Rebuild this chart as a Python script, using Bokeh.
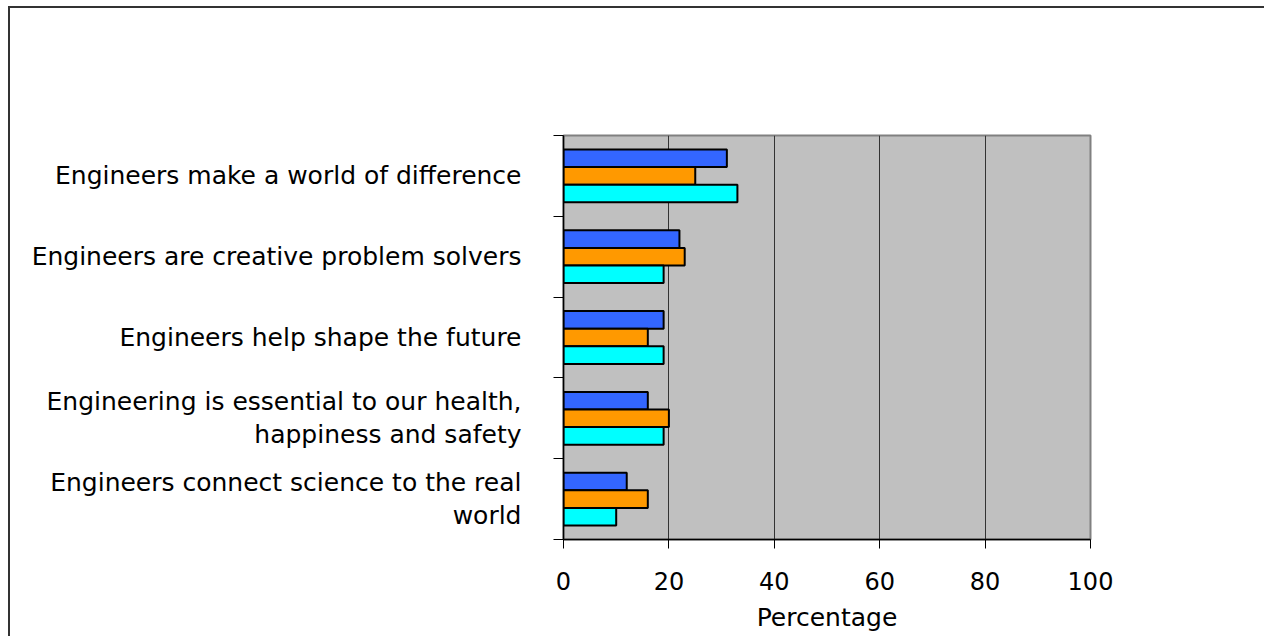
from bokeh.plotting import figure
from bokeh.models import (Range1d, LinearAxis, FixedTicker, ColumnDataSource)
from bokeh.embed import file_html
from bokeh.resources import INLINE

categories = [
    "Engineers make a world of difference",
    "Engineers are creative problem solvers",
    "Engineers help shape the future",
    "Engineering is essential to our health,\nhappiness and safety",
    "Engineers connect science to the real\nworld",
]
series_1 = [31, 22, 19, 16, 12]   # blue
series_2 = [25, 23, 16, 20, 16]   # orange
series_3 = [33, 19, 19, 19, 10]   # cyan
x_ticks = [0, 20, 40, 60, 80, 100]
x_title = "Percentage"

colors = ["#3366FF", "#FF9900", "#00FFFF"]
FONT = "DejaVu Sans"

n = len(categories)
centers = [n - i - 0.5 for i in range(n)]   # top category first

p = figure(width=1256, height=630, output_backend="svg", toolbar_location=None,
           y_range=Range1d(0, n), x_range=Range1d(0, 100), y_axis_location=None,
           x_axis_location=None,
           min_border_left=553, min_border_right=176, min_border_top=127, min_border_bottom=99)
p.margin = (6, 0, 0, 8)
p.styles = {"border-left": "2px solid #333333", "border-top": "2px solid #333333"}

p.background_fill_color = "#C0C0C0"
p.border_fill_color = "white"
p.outline_line_color = "#808080"
p.outline_line_width = 2

bh = 0.218
for vals, off, col in zip([series_1, series_2, series_3], [bh, 0, -bh], colors):
    src = ColumnDataSource(dict(y=[c + off for c in centers], right=vals))
    p.hbar(y="y", right="right", left=0, height=bh, source=src,
           fill_color=col, line_color="black", line_width=2)

# x axis
xa = LinearAxis(ticker=FixedTicker(ticks=x_ticks),
                axis_line_color="black", axis_line_width=1.5,
                major_tick_in=0, major_tick_out=9, major_tick_line_color="black",
                minor_tick_line_color=None,
                major_label_text_font=FONT, major_label_text_font_size="24px",
                major_label_text_color="black", major_label_standoff=23,
                axis_label=x_title, axis_label_text_font=FONT, axis_label_text_font_size="25px",
                axis_label_text_font_style="normal", axis_label_text_color="black",
                axis_label_standoff=10)
p.add_layout(xa, "below")

# y axis: category labels at band centres, boundary ticks as minor ticks
ya = LinearAxis(ticker=FixedTicker(ticks=centers, minor_ticks=list(range(n + 1))),
                major_label_overrides={c: lab for c, lab in zip(centers, categories)},
                axis_line_color="black", axis_line_width=1.5,
                major_tick_line_color=None, major_tick_in=0, major_tick_out=10,
                minor_tick_line_color="black", minor_tick_in=0, minor_tick_out=10,
                major_label_text_font=FONT, major_label_text_font_size="25px",
                major_label_text_color="black", major_label_standoff=32,
                major_label_text_line_height=1.15)
p.add_layout(ya, "left")

p.xgrid.ticker = FixedTicker(ticks=x_ticks[1:-1])
p.xgrid.grid_line_color = "#333333"
p.xgrid.grid_line_width = 1
p.ygrid.grid_line_color = None

open("out.html", "w").write(file_html(p, INLINE))
